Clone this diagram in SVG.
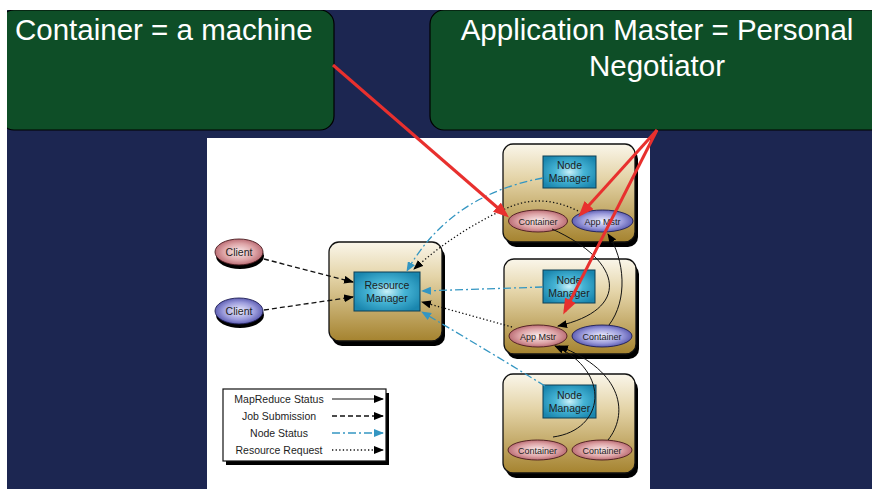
<svg xmlns="http://www.w3.org/2000/svg" width="872" height="489" viewBox="0 0 872 489">
<style>
.callout{fill:#0E4E27;stroke:#000;stroke-width:1.2}
.ctext{font-family:"Liberation Sans",Arial,sans-serif;font-size:29.5px;fill:#fff}
.box{fill:url(#nodeGrad);stroke:#111;stroke-width:1.3}
.shadow{fill:#000}
.nm{fill:url(#nmGrad);stroke:#0d3f55;stroke-width:1}
.red{fill:url(#redGrad);stroke:#4a1a1e;stroke-width:0.9}
.blue{fill:url(#blueGrad);stroke:#1e1e55;stroke-width:0.9}
.t{font-family:"Liberation Sans",Arial,sans-serif;fill:#1d1d1d;text-anchor:middle}
.t10{font-size:10.5px}
.t9{font-size:9px}
.solid{fill:none;stroke:#111;stroke-width:1;marker-end:url(#ab)}
.dash{fill:none;stroke:#111;stroke-width:1.3;stroke-dasharray:5 3;marker-end:url(#ab)}
.dot{fill:none;stroke:#111;stroke-width:1.3;stroke-dasharray:1.3 2.3;marker-end:url(#ab)}
.teal{fill:none;stroke:#3496C2;stroke-width:1.3;stroke-dasharray:8 3 2 3;marker-end:url(#at)}
.redline{fill:none;stroke:#E8302E;stroke-width:3;marker-end:url(#ar)}
</style>
<defs>
<linearGradient id="nodeGrad" x1="0" y1="0" x2="0" y2="1">
<stop offset="0" stop-color="#FAF6EA"/>
<stop offset="0.35" stop-color="#E4D4A8"/>
<stop offset="1" stop-color="#A5832F"/>
</linearGradient>
<radialGradient id="nmGrad" cx="0.5" cy="0.5" r="0.6">
<stop offset="0" stop-color="#C8F0F8"/>
<stop offset="0.45" stop-color="#46B4D5"/>
<stop offset="1" stop-color="#1A86AE"/>
</radialGradient>
<radialGradient id="redGrad" cx="0.5" cy="0.5" r="0.55">
<stop offset="0" stop-color="#FBEDED"/>
<stop offset="0.6" stop-color="#DDA3A6"/>
<stop offset="1" stop-color="#B25F68"/>
</radialGradient>
<radialGradient id="blueGrad" cx="0.5" cy="0.5" r="0.55">
<stop offset="0" stop-color="#F0F0FF"/>
<stop offset="0.6" stop-color="#9C9CDC"/>
<stop offset="1" stop-color="#4E4EA8"/>
</radialGradient>
<marker id="ab" markerWidth="10" markerHeight="8" refX="9" refY="4" orient="auto" markerUnits="userSpaceOnUse"><path d="M0,0 L10,4 L0,8 z" fill="#000"/></marker>
<marker id="at" markerWidth="10" markerHeight="8" refX="9" refY="4" orient="auto" markerUnits="userSpaceOnUse"><path d="M0,0 L10,4 L0,8 z" fill="#3496C2"/></marker>
<marker id="ar" markerWidth="16" markerHeight="12" refX="12" refY="6" orient="auto" markerUnits="userSpaceOnUse"><path d="M0,0 L16,6 L0,12 z" fill="#E8302E"/></marker>
</defs>

<rect x="0" y="0" width="872" height="489" fill="#1C2651"/>
<rect x="207" y="138" width="443" height="351" fill="#fff"/>

<g id="callout-container">
<rect class="callout" x="0" y="10" width="334" height="120" rx="14"/>
<text class="ctext" x="15" y="40">Container = a machine</text>
</g>
<g id="callout-appmaster">
<rect class="callout" x="430" y="10" width="460" height="120" rx="14"/>
<text class="ctext" x="657" y="40" text-anchor="middle">Application Master = Personal</text>
<text class="ctext" x="657" y="76" text-anchor="middle">Negotiator</text>
</g>
<rect x="0" y="0" width="872" height="10" fill="#fff"/>
<rect x="0" y="0" width="7" height="489" fill="#fff"/>

<g id="client-red">
<ellipse cx="240" cy="256" rx="24" ry="13" class="shadow"/>
<ellipse cx="239" cy="252" rx="24" ry="13" class="red"/>
<text class="t t10" x="239" y="256">Client</text>
</g>
<g id="client-blue">
<ellipse cx="240" cy="315" rx="24" ry="13" class="shadow"/>
<ellipse cx="239" cy="311" rx="24" ry="13" class="blue"/>
<text class="t t10" x="239" y="315">Client</text>
</g>

<g id="resource-manager">
<rect class="shadow" x="332" y="247" width="113" height="99" rx="10"/>
<rect class="box" x="329" y="242" width="113" height="99" rx="10"/>
<rect class="nm" x="354" y="272" width="66" height="39"/>
<text class="t t10" x="387" y="289">Resource</text>
<text class="t t10" x="387" y="302">Manager</text>
</g>

<g id="node1">
<rect class="shadow" x="506" y="149" width="132" height="98" rx="10"/>
<rect class="box" x="503" y="144" width="132" height="98" rx="10"/>
<rect class="nm" x="543" y="156" width="53" height="32"/>
<text class="t t10" x="569.5" y="169">Node</text>
<text class="t t10" x="569.5" y="182">Manager</text>
<ellipse class="red" cx="538" cy="221" rx="29.5" ry="11"/>
<text class="t t9" x="538" y="224.5">Container</text>
<ellipse class="blue" cx="602.5" cy="221" rx="30.5" ry="11"/>
<text class="t t9" x="602.5" y="224.5">App Mstr</text>
</g>

<g id="node2">
<rect class="shadow" x="507" y="264" width="132" height="95" rx="10"/>
<rect class="box" x="504" y="259" width="132" height="95" rx="10"/>
<rect class="nm" x="543" y="270" width="52" height="33"/>
<text class="t t10" x="569" y="284">Node</text>
<text class="t t10" x="569" y="297">Manager</text>
<ellipse class="red" cx="538" cy="336" rx="29" ry="11"/>
<text class="t t9" x="538" y="339.5">App Mstr</text>
<ellipse class="blue" cx="602" cy="336" rx="30" ry="11"/>
<text class="t t9" x="602" y="339.5">Container</text>
</g>

<g id="node3">
<rect class="shadow" x="506" y="379" width="132" height="99" rx="10"/>
<rect class="box" x="503" y="374" width="132" height="99" rx="10"/>
<rect class="nm" x="543" y="385" width="53" height="33"/>
<text class="t t10" x="569.5" y="399">Node</text>
<text class="t t10" x="569.5" y="412">Manager</text>
<ellipse class="red" cx="537.5" cy="450" rx="29.5" ry="10"/>
<text class="t t9" x="537.5" y="453.5">Container</text>
<ellipse class="red" cx="602" cy="450" rx="30" ry="10"/>
<text class="t t9" x="602" y="453.5">Container</text>
</g>

<g id="legend">
<rect class="shadow" x="226" y="393" width="163" height="72"/>
<rect x="223" y="389" width="163" height="72" fill="#fff" stroke="#111" stroke-width="1.2"/>
<text class="t t10" x="279" y="403">MapReduce Status</text>
<text class="t t10" x="279" y="420">Job Submission</text>
<text class="t t10" x="279" y="437">Node Status</text>
<text class="t t10" x="279" y="454">Resource Request</text>
<path class="solid" d="M332,399 L383,399"/>
<path class="dash" d="M332,416 L383,416"/>
<path class="teal" d="M332,433 L383,433"/>
<path class="dot" d="M332,450 L383,450"/>
</g>

<g id="connectors">
<path class="dash" d="M264,259 L353,282"/>
<path class="dash" d="M264,310 L353,297"/>
<path class="teal" d="M543,178 Q450,195 407,271"/>
<path class="dot" d="M578,211 Q540,192 505,209 Q455,232 414,269"/>
<path class="teal" d="M543,287 L422,291"/>
<path class="dot" d="M512,327 L422,302"/>
<path class="teal" d="M545,386 Q490,352 422,312"/>
<path class="solid" d="M552,229 C625,262 630,310 558,326"/>
<path class="solid" d="M609,325 C628,300 625,260 608,234"/>
<path class="solid" d="M553,437 C605,430 612,372 555,346"/>
<path class="solid" d="M608,440 C628,415 625,372 559,346"/>
<path class="redline" d="M333,65 L506,215"/>
<path class="redline" d="M657,130 L581,214"/>
<path class="redline" d="M657,130 L565,311"/>
</g>
</svg>
